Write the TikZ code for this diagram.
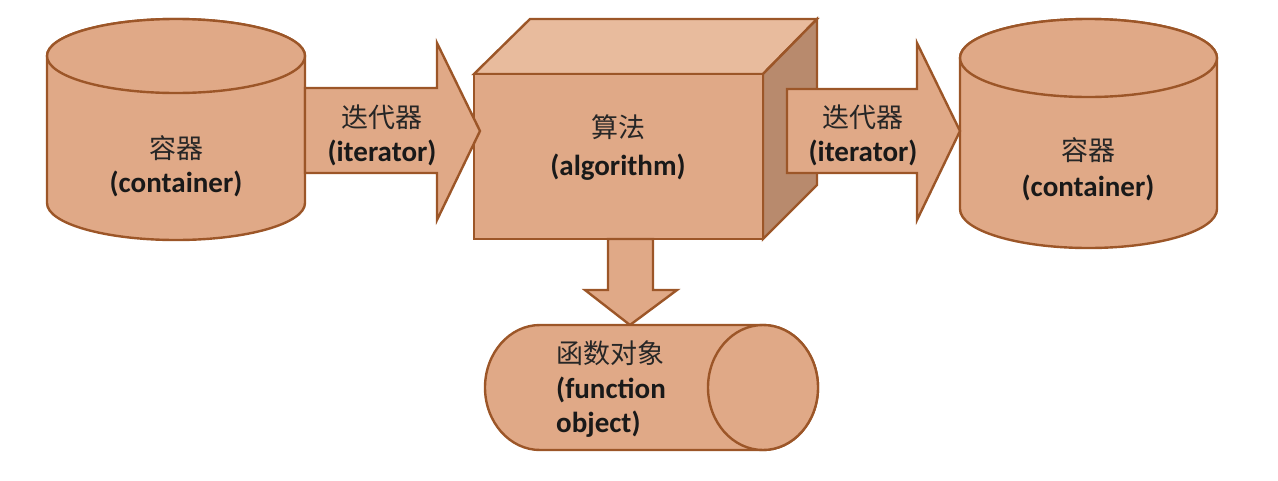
\documentclass[tikz,border=0pt]{standalone}
\usepackage{fontspec}
\setmainfont{Carlito}
\newfontfamily\cjk{Noto Sans CJK SC}
\definecolor{fillc}{HTML}{E0A987}
\definecolor{topc}{HTML}{E8BB9D}
\definecolor{sidec}{HTML}{B88A6D}
\definecolor{linec}{HTML}{9C5628}
\begin{document}
\begin{tikzpicture}[x=1pt,y=-1pt,
  shp/.style={draw=linec,line width=2.4pt,fill=fillc,line join=miter},
  zh/.style={font=\cjk\fontsize{27}{30}\selectfont,inner sep=0pt,text=black!85},
  en/.style={font=\bfseries\fontsize{29}{32}\selectfont,inner sep=0pt,text=black!90}]
\useasboundingbox (0,0) rectangle (1278,480);
% left cylinder
\path[shp] (47,56) -- (47,203) arc[start angle=180,end angle=360,x radius=129pt,y radius=37pt]
  -- (305,56) arc[start angle=0,end angle=180,x radius=129pt,y radius=37pt] -- cycle;
\draw[shp] (176,56) ellipse[x radius=129pt,y radius=37pt];
% right cylinder
\path[shp] (960,58) -- (960,209) arc[start angle=180,end angle=360,x radius=128.5pt,y radius=39pt]
  -- (1217,58) arc[start angle=0,end angle=180,x radius=128.5pt,y radius=39pt] -- cycle;
\draw[shp] (1088.5,58) ellipse[x radius=128.5pt,y radius=39pt];
% cube
\path[shp,fill=topc] (474,74) -- (530,19) -- (817,19) -- (763,74) -- cycle;
\path[shp,fill=sidec] (763,74) -- (817,19) -- (817,185) -- (763,239) -- cycle;
\path[shp] (474,74) rectangle (763,239);
% arrows
\path[shp] (305,88) -- (437,88) -- (437,43) -- (480,131) -- (437,220) -- (437,173) -- (305,173) -- cycle;
\path[shp] (787,89) -- (917,89) -- (917,43) -- (960,131) -- (917,220) -- (917,173) -- (787,173) -- cycle;
\path[shp] (608,239) -- (653,239) -- (653,290) -- (677,290) -- (630,325) -- (585,290) -- (608,290) -- cycle;
% bottom cylinder
\path[shp] (540,325) -- (763,325) arc[start angle=90,end angle=-90,x radius=55pt,y radius=62.5pt]
  -- (540,450) arc[start angle=270,end angle=90,x radius=55pt,y radius=62.5pt] -- cycle;
\draw[shp] (763,387.5) ellipse[x radius=55pt,y radius=62.5pt];
% texts
\node[zh] (c1zh) at (176,148) {容器};
\node[en] (c1en) at (176,184) {(container)};
\node[zh] (c2zh) at (1088,150) {容器};
\node[en] (c2en) at (1088,188) {(container)};
\node[zh] (a1zh) at (382,117) {迭代器};
\node[en] (a1en) at (382,153) {(iterator)};
\node[zh] (a2zh) at (863,117) {迭代器};
\node[en] (a2en) at (863,153) {(iterator)};
\node[zh] (alzh) at (618,127) {算法};
\node[en] (alen) at (618,167) {(algorithm)};
\node[zh,anchor=west] (fzh) at (556,353) {函数对象};
\node[en,anchor=west] (fen1) at (556,390) {(function};
\node[en,anchor=west] (fen2) at (556,424) {object)};
\end{tikzpicture}
\end{document}
